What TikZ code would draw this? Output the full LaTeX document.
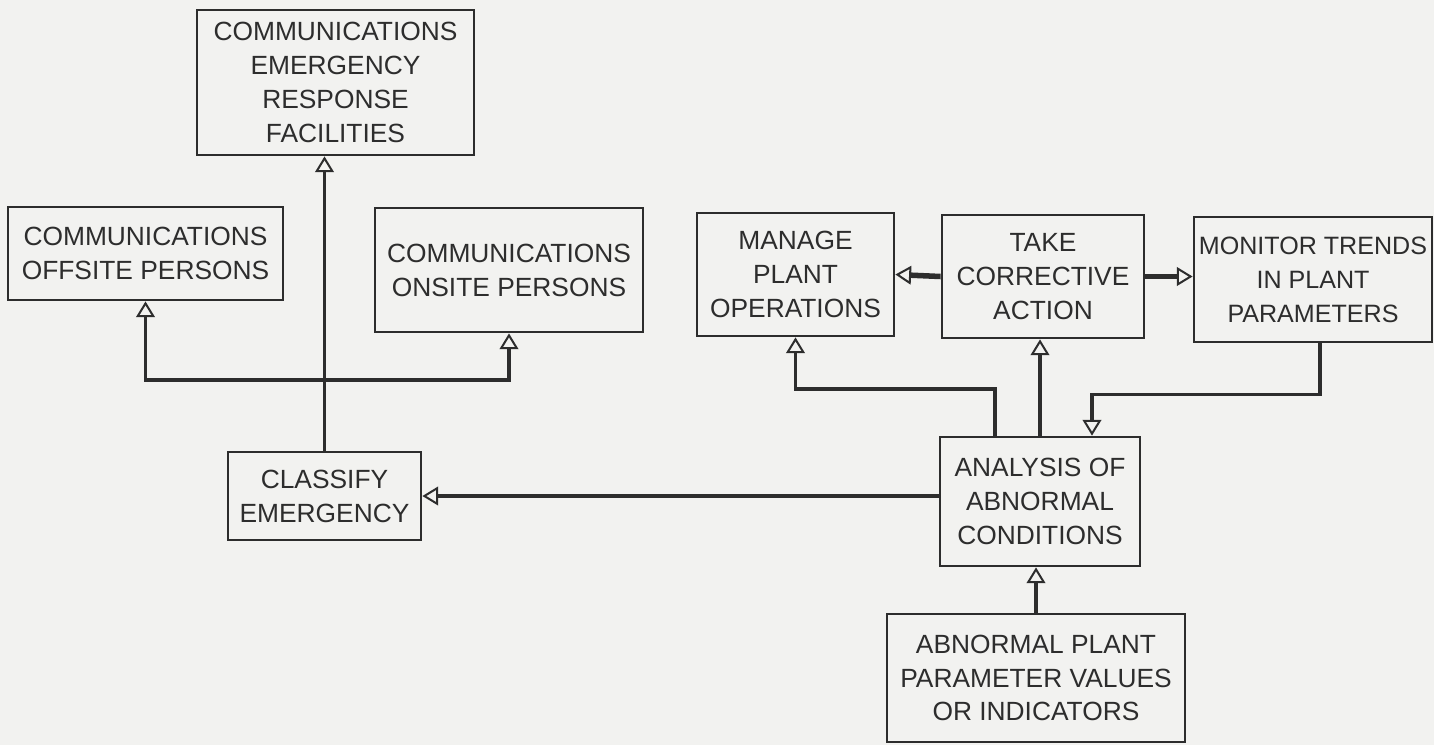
\documentclass[tikz,border=0pt]{standalone}
\usepackage{fontspec}
\setmainfont{Liberation Sans}
\usepackage{tikz}
\usetikzlibrary{arrows.meta,positioning,calc}
\definecolor{scanink}{RGB}{45,45,45}
\definecolor{scanpaper}{RGB}{242,242,240}

\begin{document}
\begin{tikzpicture}[x=0.014cm,y=-0.014cm,box/.style={draw=scanink,line width=1.1pt,inner sep=0pt,align=center,text=scanink,font=\fontsize{10.5}{13.5}\selectfont},arr/.style={-{Triangle[open,length=2.2mm,width=2.6mm,line width=0.8pt]},line width=1.5pt,draw=scanink}]
\fill[scanpaper] (0,0) rectangle (1434,745);
\clip (0,0) rectangle (1434,745);
\node[box,minimum width=277*0.014cm,minimum height=145*0.014cm] (CE) at (335.5,82.5) {COMMUNICATIONS\\EMERGENCY\\RESPONSE\\FACILITIES};
\node[box,minimum width=275*0.014cm,minimum height=93*0.014cm] (CO) at (145.5,253.5) {COMMUNICATIONS\\OFFSITE PERSONS};
\node[box,minimum width=268*0.014cm,minimum height=124*0.014cm] (CN) at (509,270) {COMMUNICATIONS\\ONSITE PERSONS};
\node[box,minimum width=197*0.014cm,minimum height=123*0.014cm] (MP) at (795.5,274.5) {MANAGE\\PLANT\\OPERATIONS};
\node[box,minimum width=202*0.014cm,minimum height=123*0.014cm] (TA) at (1043,276.5) {TAKE\\CORRECTIVE\\ACTION};
\node[box,minimum width=238*0.014cm,minimum height=125*0.014cm,font=\fontsize{10}{13.5}\selectfont] (MT) at (1313,279.5) {MONITOR TRENDS\\IN PLANT\\PARAMETERS};
\node[box,minimum width=193*0.014cm,minimum height=88*0.014cm] (CL) at (324.5,496) {CLASSIFY\\EMERGENCY};
\node[box,minimum width=200*0.014cm,minimum height=129*0.014cm] (AN) at (1040,501.5) {ANALYSIS OF\\ABNORMAL\\CONDITIONS};
\node[box,minimum width=298*0.014cm,minimum height=128*0.014cm] (AB) at (1036,678) {ABNORMAL PLANT\\PARAMETER VALUES\\OR INDICATORS};
\coordinate (bus) at (CL.north |- 0,380);
% emergency side
\draw[arr] (CL.north) -- (CL.north |- CE.south); \draw[arr] (bus) -| (CO.south); \draw[arr] (bus) -| (CN.south);
\draw[arr] (CL.east -| AN.west) -- (CL.east);
% plant side
\draw[arr,line width=2.2pt] (TA.west) -- (MP.east); \draw[arr,line width=2.2pt] (TA.east) -- (TA.east -| MT.west);
\draw[arr] ($(AN.north)+(-45,0)$) -- ++(0,-47) -| (MP.south); \draw[arr] (AN.north) -- (AN.north |- TA.south);
\draw[arr] ($(MT.south)+(7,0)$) -- ++(0,51) -| ($(AN.north)+(52,0)$); \draw[arr] (AB.north) -- (AB.north |- AN.south);
\end{tikzpicture}
\end{document}
